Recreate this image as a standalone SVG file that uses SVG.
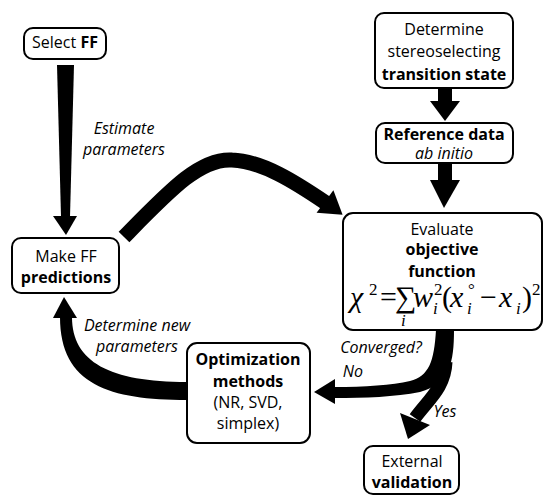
<svg xmlns="http://www.w3.org/2000/svg" width="545" height="495" viewBox="0 0 545 495">
<style>
.box{fill:#fff;stroke:#000;stroke-width:2}
.t{font-family:"Open Sans","Liberation Sans",sans-serif;font-size:16px;fill:#000;text-anchor:middle}
.b{font-weight:bold}
.i{font-style:italic}
.m{font-family:"Liberation Serif","DejaVu Serif",serif;font-size:30px;fill:#000;font-style:italic}
.mu{font-family:"Liberation Serif","DejaVu Serif",serif;font-size:30px;fill:#000}
.s{font-family:"Liberation Serif","DejaVu Serif",serif;font-size:17px;fill:#000}
.si{font-family:"Liberation Serif","DejaVu Serif",serif;font-size:17px;fill:#000;font-style:italic}
.band{fill:none;stroke:#000;stroke-linecap:butt}
</style>
<rect width="545" height="495" fill="#fff"/>
<g id="connectors">
  <polygon points="57,65 74,65 70,217 61,217"/>
  <polygon points="53,216 77,216 66,235"/>
  <path class="band" stroke-width="15" d="M124,237 C170,190 200,158 232,160 C262,161 295,182 326,203"/>
  <polygon points="342.6,214.7 316.6,212.7 333.4,190.3"/>
  <rect x="438" y="88" width="14" height="14"/>
  <polygon points="430,101 460,101 445,121"/>
  <rect x="438" y="163" width="14" height="18"/>
  <polygon points="430,180 460,180 444,208"/>
  <path d="M436,330 L454,330 C454,362 450,384 420,392 C395,397 365,398 334,398 L334,387 C365,387 392,385 410,381 C429,376 434,362 436,330 Z"/>
  <polygon points="314,392 335,379 335,404"/>
  <path class="band" stroke-width="13" d="M446,362 C445,388 428,400 415,418"/>
  <polygon points="408,439 400,413 430,425"/>
  <path d="M187,382 L187,400 C110,400 60,385 60,317 L72,317 C72,362 110,382 187,382 Z"/>
  <polygon points="53,318 77,318 64,297"/>
</g>
<g id="select-ff">
  <rect class="box" x="24" y="28" width="82" height="31" rx="9"/>
  <text class="t" x="65" y="48">Select <tspan class="b">FF</tspan></text>
</g>
<g id="make-ff">
  <rect class="box" x="12" y="238" width="107" height="55" rx="9"/>
  <text class="t" x="66" y="262">Make FF</text>
  <text class="t b" x="66" y="283">predictions</text>
</g>
<g id="determine-ts">
  <rect class="box" x="375" y="13" width="138" height="75" rx="9"/>
  <text class="t" x="444" y="35">Determine</text>
  <text class="t" x="444" y="57">stereoselecting</text>
  <text class="t b" x="444" y="80">transition state</text>
</g>
<g id="reference-data">
  <rect class="box" x="376" y="123" width="137" height="40" rx="9"/>
  <text class="t b" x="444" y="140">Reference data</text>
  <text class="t i" x="444" y="159" font-size="15">ab initio</text>
</g>
<g id="evaluate">
  <rect class="box" x="343" y="213" width="199" height="117" rx="10"/>
  <text class="t" x="442" y="235">Evaluate</text>
  <text class="t b" x="442" y="255">objective</text>
  <text class="t b" x="442" y="277">function</text>
  <text class="m" x="350" y="307" font-size="35">χ</text>
  <text class="s" x="369" y="295">2</text>
  <text class="mu" x="380" y="307">=</text>
  <text class="mu" x="395" y="307" font-size="36">∑</text>
  <text class="si" x="401" y="326">i</text>
  <text class="m" x="413" y="307">w</text>
  <text class="s" x="434" y="295">2</text>
  <text class="si" x="433" y="314">i</text>
  <text class="mu" x="442" y="307">(</text>
  <text class="m" x="450" y="307">x</text>
  <text class="s" x="468" y="295">°</text>
  <text class="si" x="467" y="314">i</text>
  <text class="mu" x="480" y="307">−</text>
  <text class="m" x="499" y="307">x</text>
  <text class="si" x="516" y="314">i</text>
  <text class="mu" x="522" y="307">)</text>
  <text class="s" x="532" y="295">2</text>
</g>
<g id="optimization">
  <rect class="box" x="187" y="343" width="123" height="100" rx="10"/>
  <text class="t b" x="248" y="365">Optimization</text>
  <text class="t b" x="248" y="387">methods</text>
  <text class="t" x="248" y="408">(NR, SVD,</text>
  <text class="t" x="248" y="429">simplex)</text>
</g>
<g id="external-validation">
  <rect class="box" x="364" y="446" width="95" height="48" rx="9"/>
  <text class="t" x="412" y="467">External</text>
  <text class="t b" x="412" y="488">validation</text>
</g>
<g id="labels">
  <text class="t i" x="124" y="134">Estimate</text>
  <text class="t i" x="124" y="155">parameters</text>
  <text class="t i" x="137" y="331">Determine new</text>
  <text class="t i" x="137" y="352">parameters</text>
  <text class="t i" x="381" y="353">Converged?</text>
  <text class="t i" x="353" y="377">No</text>
  <text class="t i" x="445" y="417">Yes</text>
</g>
</svg>
